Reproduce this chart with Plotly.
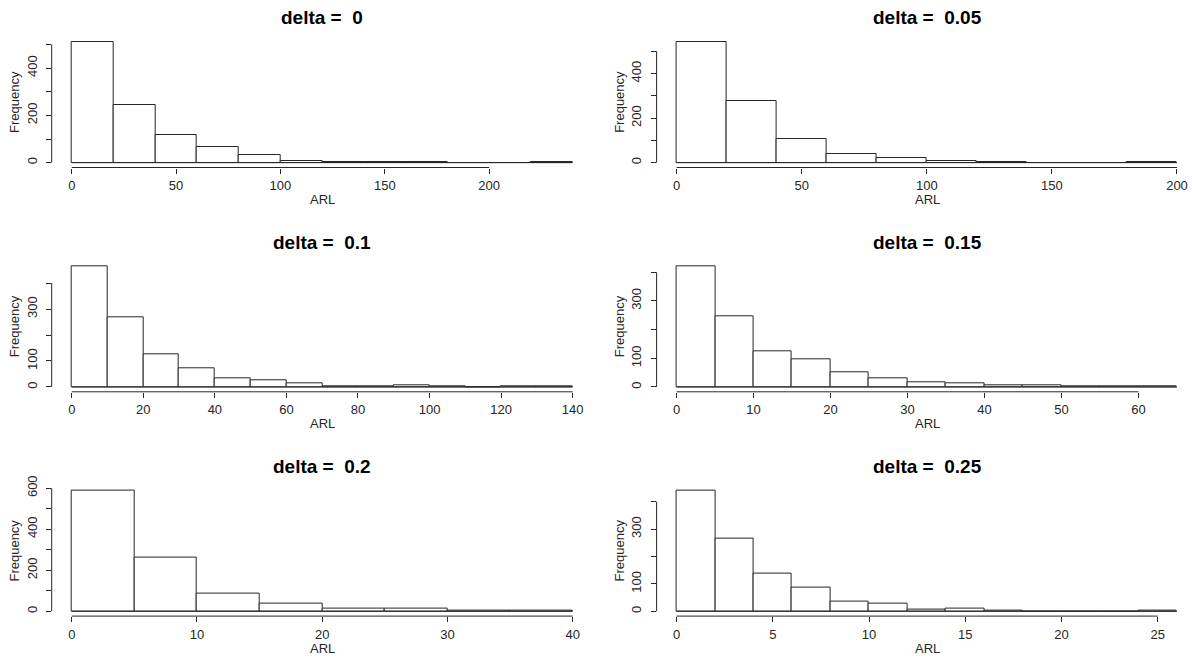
import plotly.graph_objects as go

# ARL histograms for six shift sizes (counts per bin)
deltas = ["0", "0.05", "0.1", "0.15", "0.2", "0.25"]

bin_width_d0 = 20
counts_d0 = [511, 243, 116, 68, 34, 9, 4, 4, 1, 0, 0, 1]
xticks_d0 = [0, 50, 100, 150, 200]
yticks_d0 = [0, 100, 200, 300, 400, 500]
ylabels_d0 = ["0", "", "200", "", "400", ""]

bin_width_d005 = 20
counts_d005 = [542, 277, 105, 41, 22, 6, 4, 0, 0, 1]
xticks_d005 = [0, 50, 100, 150, 200]
yticks_d005 = [0, 100, 200, 300, 400, 500]
ylabels_d005 = ["0", "", "200", "", "400", ""]

bin_width_d01 = 10
counts_d01 = [465, 270, 127, 72, 32, 25, 14, 3, 3, 6, 3, 0, 2, 2]
xticks_d01 = [0, 20, 40, 60, 80, 100, 120, 140]
yticks_d01 = [0, 100, 200, 300, 400]
ylabels_d01 = ["0", "100", "", "300", ""]

bin_width_d015 = 5
counts_d015 = [421, 246, 124, 98, 51, 30, 17, 13, 6, 6, 2, 2, 2]
xticks_d015 = [0, 10, 20, 30, 40, 50, 60]
yticks_d015 = [0, 100, 200, 300, 400]
ylabels_d015 = ["0", "100", "", "300", ""]

bin_width_d02 = 5
counts_d02 = [589, 262, 85, 37, 13, 13, 3, 3]
xticks_d02 = [0, 10, 20, 30, 40]
yticks_d02 = [0, 100, 200, 300, 400, 500, 600]
ylabels_d02 = ["0", "", "200", "", "400", "", "600"]

bin_width_d025 = 2
counts_d025 = [441, 266, 139, 85, 35, 28, 6, 10, 4, 0, 0, 0, 1]
xticks_d025 = [0, 5, 10, 15, 20, 25]
yticks_d025 = [0, 100, 200, 300, 400]
ylabels_d025 = ["0", "100", "", "300", ""]

panels = [
    (bin_width_d0, counts_d0, xticks_d0, yticks_d0, ylabels_d0),
    (bin_width_d005, counts_d005, xticks_d005, yticks_d005, ylabels_d005),
    (bin_width_d01, counts_d01, xticks_d01, yticks_d01, ylabels_d01),
    (bin_width_d015, counts_d015, xticks_d015, yticks_d015, ylabels_d015),
    (bin_width_d02, counts_d02, xticks_d02, yticks_d02, ylabels_d02),
    (bin_width_d025, counts_d025, xticks_d025, yticks_d025, ylabels_d025),
]

W, H = 1197, 658
col_left = [51.7, 656.6]
col_width = 541.0
row_top = [37.0, 261.3, 485.6]
row_height = 130.5

INK = "#262626"
FONT = "Liberation Sans, Arial, sans-serif"

fig = go.Figure()
layout = dict(
    width=W, height=H,
    margin=dict(l=0, r=0, t=0, b=0, autoexpand=False),
    paper_bgcolor="white", plot_bgcolor="white",
    showlegend=False, bargap=0,
    font=dict(family=FONT, size=13, color=INK),
)
annotations = []
shapes = []

for i, (bw, counts, xt, yt, yl) in enumerate(panels):
    r, c = divmod(i, 2)
    n = i + 1
    xa = "x" if n == 1 else f"x{n}"
    ya = "y" if n == 1 else f"y{n}"
    xkey = "xaxis" if n == 1 else f"xaxis{n}"
    ykey = "yaxis" if n == 1 else f"yaxis{n}"

    edges = [bw * k for k in range(len(counts) + 1)]
    centers = [(edges[k] + edges[k + 1]) / 2 for k in range(len(counts))]
    x_lo, x_hi = edges[0], edges[-1]
    span = x_hi - x_lo
    ymax = max(counts)

    fig.add_trace(go.Bar(
        x=centers, y=counts, width=[bw] * len(counts),
        marker=dict(color="white", line=dict(color=INK, width=1)),
        xaxis=xa, yaxis=ya, hoverinfo="x+y",
    ))

    x0p = col_left[c] / W
    x1p = min(1.0, (col_left[c] + col_width) / W)
    y1p = 1 - row_top[r] / H
    y0p = 1 - (row_top[r] + row_height) / H

    common = dict(showgrid=False, zeroline=False, showline=False, automargin=False,
                  ticks="outside", ticklen=5, tickwidth=1, tickcolor=INK,
                  tickfont=dict(family=FONT, size=13, color=INK))
    layout[xkey] = dict(domain=[x0p, x1p], anchor=ya,
                        range=[x_lo - 0.04 * span, x_hi + 0.04 * span],
                        tickvals=xt, ticktext=[str(v) for v in xt],
                        ticklabelstandoff=1, **common)
    layout[ykey] = dict(domain=[y0p, y1p], anchor=xa,
                        range=[-0.04 * ymax, 1.04 * ymax],
                        tickvals=yt, ticktext=yl, tickangle=-90,
                        ticklabelstandoff=4, **common)

    # axis lines spanning first to last tick
    shapes.append(dict(type="line", xref=xa, yref=f"{ya} domain",
                       x0=xt[0], x1=xt[-1], y0=0, y1=0,
                       line=dict(color=INK, width=1)))
    shapes.append(dict(type="line", xref=f"{xa} domain", yref=ya,
                       x0=0, x1=0, y0=yt[0], y1=yt[-1],
                       line=dict(color=INK, width=1)))
    # histogram baseline over all bins
    shapes.append(dict(type="line", xref=xa, yref=ya,
                       x0=x_lo, x1=x_hi, y0=0, y1=0,
                       line=dict(color=INK, width=1)))

    annotations.append(dict(text=f"<b>delta =  {deltas[i]}</b>", xref="paper", yref="paper",
                            x=(col_left[c] + col_width / 2) / W,
                            y=1 - (row_top[r] - 19) / H,
                            xanchor="center", yanchor="middle", showarrow=False,
                            font=dict(family=FONT, size=19, color="black")))
    annotations.append(dict(text="ARL", xref="paper", yref="paper",
                            x=(col_left[c] + col_width / 2) / W,
                            y=1 - (row_top[r] + row_height + 32) / H,
                            xanchor="center", yanchor="middle", showarrow=False,
                            font=dict(family=FONT, size=13, color=INK)))
    annotations.append(dict(text="Frequency", xref="paper", yref="paper",
                            x=(col_left[c] - 37) / W,
                            y=1 - (row_top[r] + row_height / 2) / H,
                            xanchor="center", yanchor="middle", showarrow=False,
                            textangle=-90,
                            font=dict(family=FONT, size=13, color=INK)))

layout["annotations"] = annotations
layout["shapes"] = shapes
fig.update_layout(**layout)
fig.write_html("out.html")
